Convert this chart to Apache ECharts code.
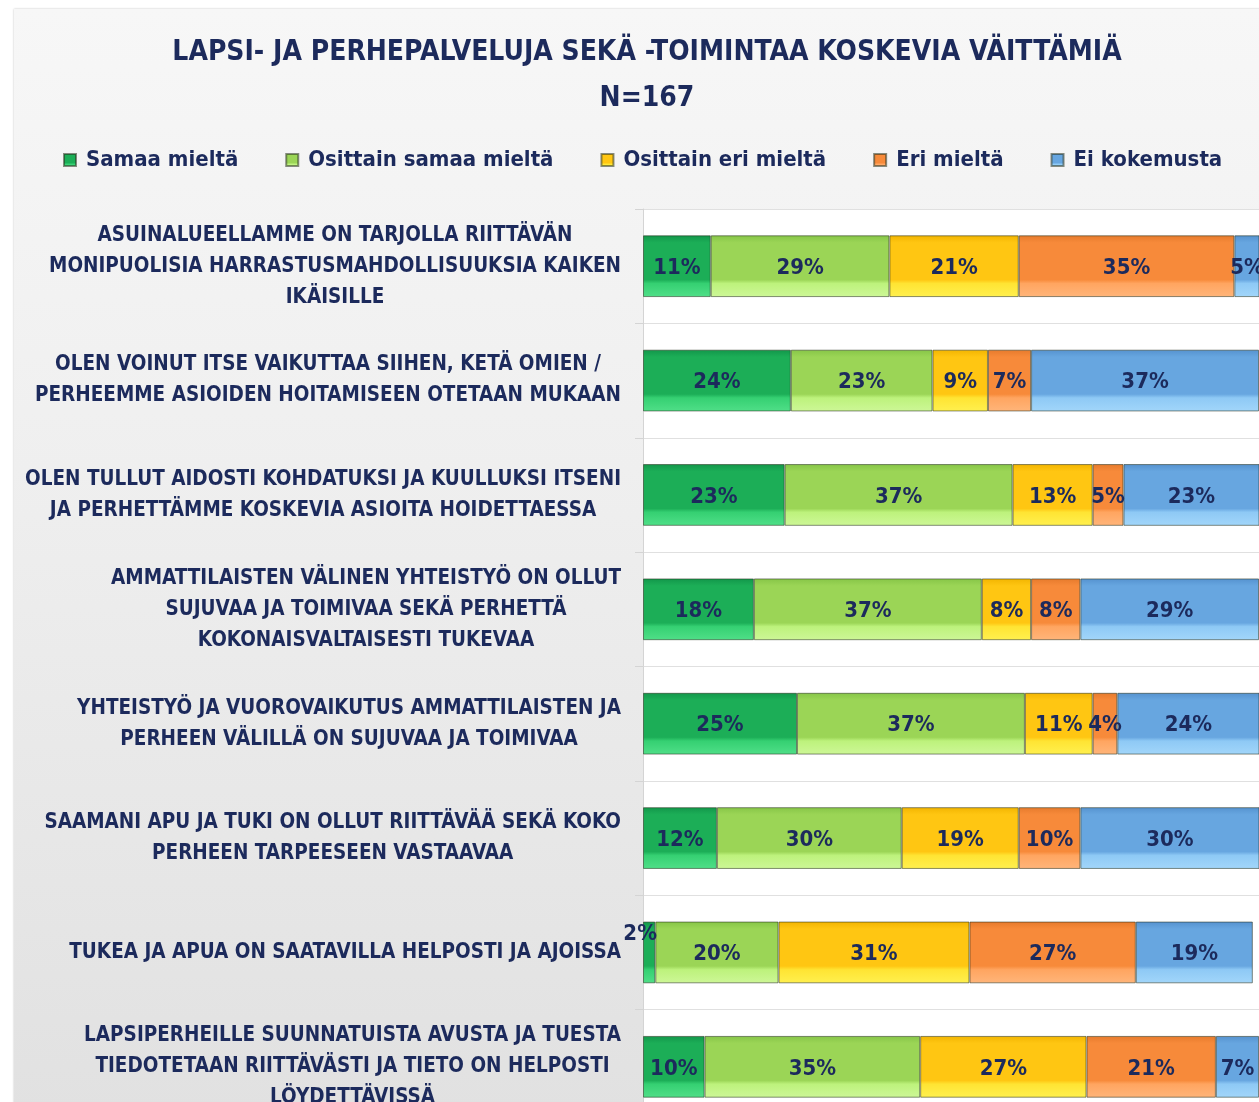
<!doctype html>
<html>
<head>
<meta charset="utf-8">
<script src="https://cdn.jsdelivr.net/npm/echarts@6/dist/echarts.min.js"></script>
<style>
  html, body { margin: 0; padding: 0; background: #fff; overflow: hidden; width: 1259px; height: 1102px; }
  #card {
    position: absolute; left: 14px; top: 9px; width: 1300px; height: 1150px;
    background: linear-gradient(to bottom, #f7f7f7 0%, #efefef 40%, #e0e0e0 100%);
    box-shadow: 0 0 2px rgba(0,0,0,0.25);
  }
  #chart { position: absolute; left: 0; top: 0; width: 1259px; height: 1140px; }
</style>
</head>
<body>
<div id="card"></div>
<div id="chart"></div>
<script>
const categories = [
  'ASUINALUEELLAMME ON TARJOLLA RIITTÄVÄN\nMONIPUOLISIA HARRASTUSMAHDOLLISUUKSIA KAIKEN\nIKÄISILLE',
  'OLEN VOINUT ITSE VAIKUTTAA SIIHEN, KETÄ OMIEN /\nPERHEEMME ASIOIDEN HOITAMISEEN OTETAAN MUKAAN',
  'OLEN TULLUT AIDOSTI KOHDATUKSI JA KUULLUKSI ITSENI\nJA PERHETTÄMME KOSKEVIA ASIOITA HOIDETTAESSA',
  'AMMATTILAISTEN VÄLINEN YHTEISTYÖ ON OLLUT\nSUJUVAA JA TOIMIVAA SEKÄ PERHETTÄ\nKOKONAISVALTAISESTI TUKEVAA',
  'YHTEISTYÖ JA VUOROVAIKUTUS AMMATTILAISTEN JA\nPERHEEN VÄLILLÄ ON SUJUVAA JA TOIMIVAA',
  'SAAMANI APU JA TUKI ON OLLUT RIITTÄVÄÄ SEKÄ KOKO\nPERHEEN TARPEESEEN VASTAAVAA',
  'TUKEA JA APUA ON SAATAVILLA HELPOSTI JA AJOISSA',
  'LAPSIPERHEILLE SUUNNATUISTA AVUSTA JA TUESTA\nTIEDOTETAAN RIITTÄVÄSTI JA TIETO ON HELPOSTI\nLÖYDETTÄVISSÄ'
];

const seriesNames = ['Samaa mieltä', 'Osittain samaa mieltä', 'Osittain eri mieltä', 'Eri mieltä', 'Ei kokemusta'];

const samaaMielta = [11, 24, 23, 18, 25, 12, 2, 10];
const osittainSamaa = [29, 23, 37, 37, 37, 30, 20, 35];
const osittainEri = [21, 9, 13, 8, 11, 19, 31, 27];
const eriMielta = [35, 7, 5, 8, 4, 10, 27, 21];
const eiKokemusta = [5, 37, 23, 29, 24, 30, 19, 7];

const title = 'LAPSI- JA PERHEPALVELUJA SEKÄ -TOIMINTAA KOSKEVIA VÄITTÄMIÄ';
const subtitle = 'N=167';

const navy = '#1c2a5c';
const font = '"Liberation Sans Narrow", "DejaVu Sans Condensed", "Open Sans", sans-serif';

// [top shade, main, bevel light, bottom light]
const palette = [
  ['#12964a', '#1cae57', '#35d072', '#50df88'],
  ['#86c547', '#9bd556', '#bdf27c', '#cdf797'],
  ['#f2b400', '#ffc612', '#ffe433', '#fff04f'],
  ['#e67a2c', '#f78a3a', '#ffa560', '#ffb57a'],
  ['#5592cf', '#67a6e0', '#8ec9f5', '#a2d6fa']
];

function barColor(c) {
  return new echarts.graphic.LinearGradient(0, 0, 0, 1, [
    { offset: 0, color: c[0] },
    { offset: 0.12, color: c[1] },
    { offset: 0.72, color: c[1] },
    { offset: 0.78, color: c[2] },
    { offset: 1, color: c[3] }
  ]);
}

const values = [samaaMielta, osittainSamaa, osittainEri, eriMielta, eiKokemusta];

const series = values.map((vals, i) => ({
  name: seriesNames[i],
  type: 'bar',
  stack: 'total',
  barCategoryGap: '46%',
  itemStyle: {
    color: barColor(palette[i]),
    borderColor: 'rgba(40,50,30,0.55)',
    borderWidth: 1
  },
  label: {
    show: true,
    position: 'inside',
    offset: [0, 2],
    formatter: '{c}%',
    color: navy,
    fontFamily: font,
    fontWeight: 'bold',
    fontSize: 22
  },
  data: vals.map(v => v < 3
    ? { value: v, label: { offset: [-9, -18] } }
    : v)
}));

const chart = echarts.init(document.getElementById('chart'));
chart.setOption({
  backgroundColor: 'transparent',
  animation: false,
  title: {
    text: title + '\n' + subtitle,
    left: 642,
    top: 25,
    textAlign: 'center',
    textStyle: {
      color: navy,
      fontFamily: font,
      fontWeight: 'bold',
      fontSize: 28,
      lineHeight: 46
    }
  },
  legend: {
    left: 63,
    top: 149,
    padding: 0,
    itemWidth: 12,
    itemHeight: 12,
    itemGap: 47,
    icon: 'rect',
    textStyle: {
      color: navy,
      fontFamily: font,
      fontWeight: 'bold',
      fontSize: 22,
      padding: [0, 0, 0, 5]
    },
    data: seriesNames
  },
  grid: {
    left: 643,
    right: 0,
    top: 209,
    bottom: 16,
    show: true,
    backgroundColor: '#ffffff',
    borderWidth: 0
  },
  xAxis: {
    type: 'value',
    min: 0,
    max: 100,
    show: false
  },
  yAxis: {
    type: 'category',
    inverse: true,
    data: categories,
    axisLine: { show: true, lineStyle: { color: '#d4d4d4' } },
    axisTick: { show: true, length: 8, lineStyle: { color: '#d4d4d4' } },
    splitLine: { show: true, lineStyle: { color: '#e0e0e0', width: 1 } },
    axisLabel: {
      margin: 22,
      align: 'right',
      color: navy,
      fontFamily: font,
      fontWeight: 'bold',
      fontSize: 20.5,
      lineHeight: 31,
      formatter: v => v.split('\n').map(l => '{c|' + l + '}').join('\n'),
      rich: {
        c: {
          align: 'center',
          color: navy,
          fontFamily: font,
          fontWeight: 'bold',
          fontSize: 20.5,
          lineHeight: 31
        }
      }
    }
  },
  series: series
});
</script>
</body>
</html>
